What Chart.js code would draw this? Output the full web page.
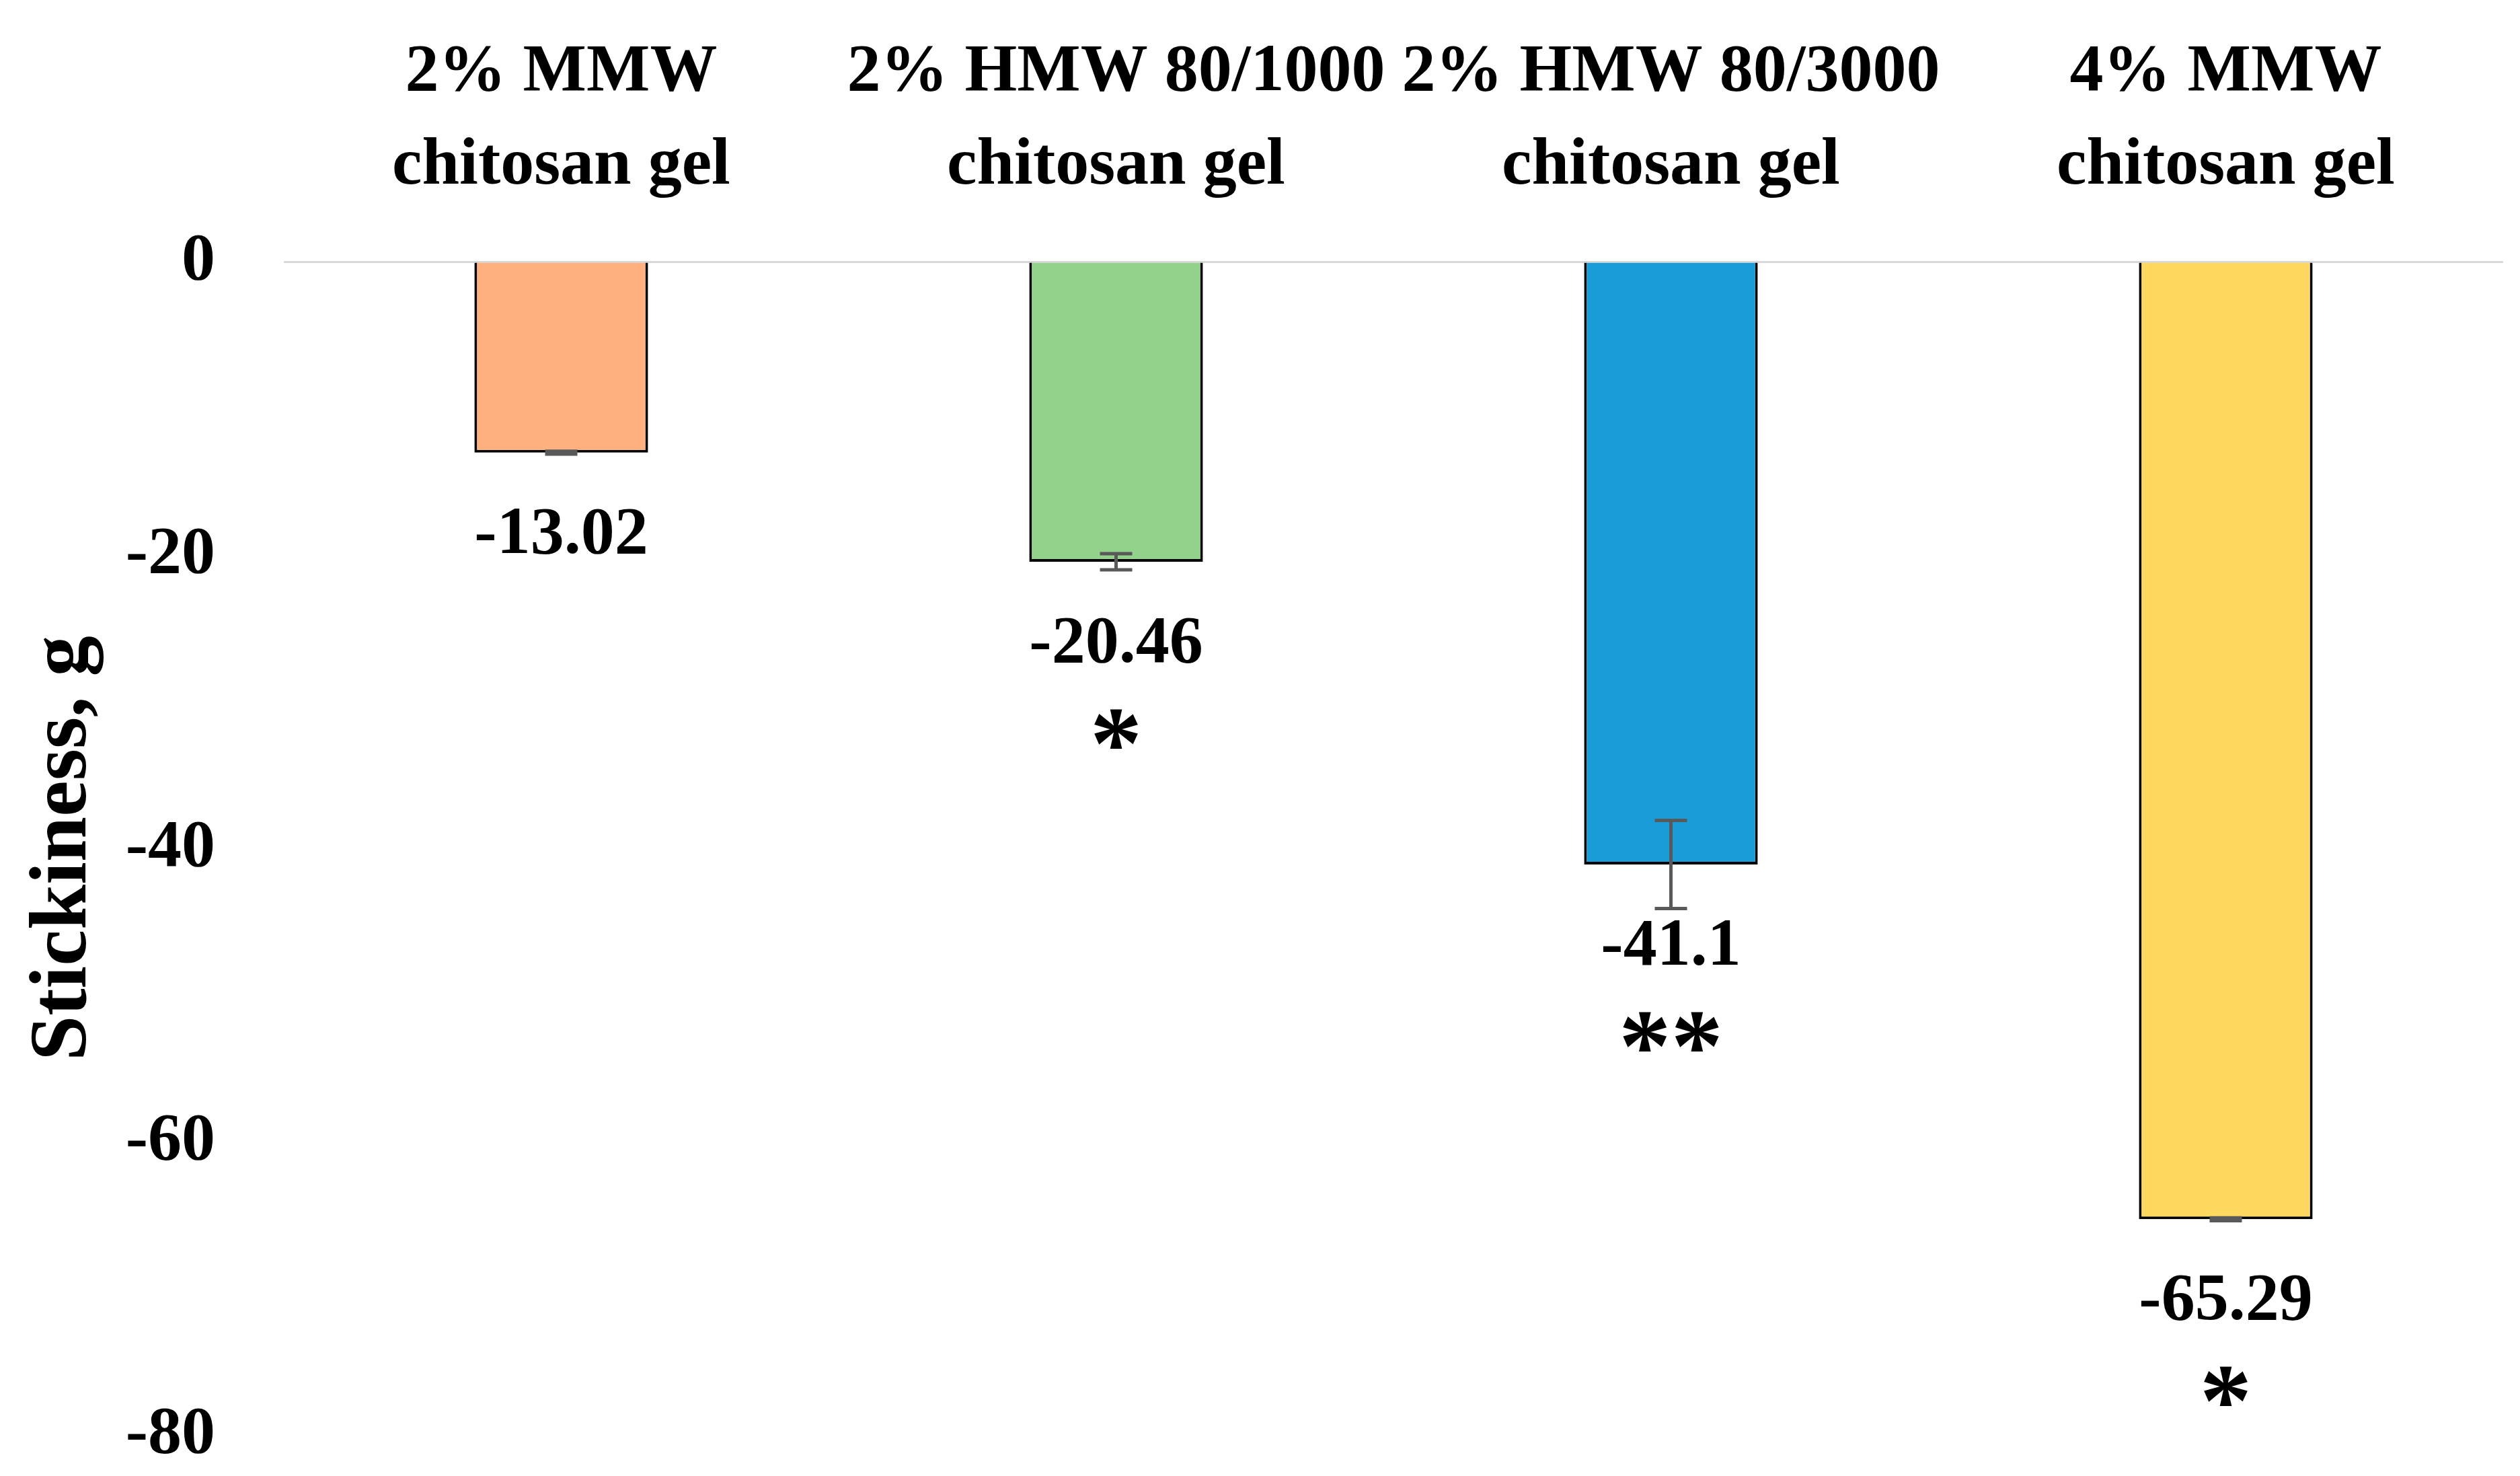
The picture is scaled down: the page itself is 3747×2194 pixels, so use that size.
<!DOCTYPE html>
<html>
<head>
<meta charset="utf-8">
<script src="https://cdn.jsdelivr.net/npm/chart.js@4.4.0/dist/chart.umd.min.js"></script>
<style>
  body { margin: 0; background: #fff; }
  canvas { display: block; }
</style>
</head>
<body>
<canvas id="chart" width="3747" height="2194"></canvas>
<script>
// data
const labels = [
    ['2% MMW', 'chitosan gel'],
    ['2% HMW 80/1000', 'chitosan gel'],
    ['2% HMW 80/3000', 'chitosan gel'],
    ['4% MMW', 'chitosan gel']
];
const values = [-13.02, -20.46, -41.1, -65.29];
const errors = [0.1, 0.55, 3.0, 0.1];
const valueLabels = ['-13.02', '-20.46', '-41.1', '-65.29'];
const stars = ['', '*', '**', '*'];
const colors = ['#FFB07F', '#93D28A', '#199CD8', '#FFD95F'];
const yTicks = [0, -20, -40, -60, -80];

const serif = '"Liberation Serif", "Times New Roman", serif';

// error bars, value labels and significance stars under each bar
const barExtras = {
    id: 'barExtras',
    afterDatasetsDraw(chart) {
        const ctx = chart.ctx;
        const y = chart.scales.y;
        const meta = chart.getDatasetMeta(0);
        meta.data.forEach((bar, i) => {
            const x = bar.x;
            const top = y.getPixelForValue(values[i] + errors[i]);
            const bottom = y.getPixelForValue(values[i] - errors[i]);
            ctx.save();
            ctx.strokeStyle = '#595959';
            ctx.lineWidth = 5;
            ctx.beginPath();
            ctx.moveTo(x, top); ctx.lineTo(x, bottom);
            ctx.moveTo(x - 24, top); ctx.lineTo(x + 24, top);
            ctx.moveTo(x - 24, bottom); ctx.lineTo(x + 24, bottom);
            ctx.stroke();

            ctx.fillStyle = '#000';
            ctx.textAlign = 'center';
            ctx.textBaseline = 'alphabetic';
            ctx.font = 'bold 100px ' + serif;
            const mid = bar.y + 115;
            ctx.fillText(valueLabels[i], x, mid + 34);
            if (stars[i]) {
                ctx.font = 'bold 155px ' + serif;
                ctx.fillText(stars[i], x, mid + 132 + 75);
            }
            ctx.restore();
        });
    }
};

const ctx = document.getElementById('chart').getContext('2d');
const chart = new Chart(ctx, {
    type: 'bar',
    data: {
        labels: labels,
        datasets: [{
            data: values,
            backgroundColor: colors,
            borderColor: '#000',
            borderWidth: 4,
            barPercentage: 0.313,
            categoryPercentage: 1
        }]
    },
    options: {
        responsive: false,
        animation: false,
        devicePixelRatio: 1,
        layout: { padding: { top: 0, left: 0, right: 25, bottom: 61 } },
        plugins: {
            legend: { display: false },
            tooltip: { enabled: false }
        },
        scales: {
            x: {
                position: 'top',
                grid: { display: false, drawTicks: false },
                border: { display: false },
                ticks: {
                    color: '#000',
                    font: { family: serif, size: 100, weight: 'bold', lineHeight: 1.39 },
                    padding: 72,
                    maxRotation: 0,
                    autoSkip: false
                },
                afterFit(scale) {
                    scale.height = 389;
                    scale.paddingLeft = 0;
                    scale.paddingRight = 0;
                }
            },
            y: {
                min: -80,
                max: 0,
                afterBuildTicks(scale) { scale.ticks = yTicks.map(v => ({ value: v })); },
                grid: {
                    drawTicks: false,
                    lineWidth: 3,
                    color: c => (c.tick && c.tick.value === 0) ? '#D9D9D9' : 'rgba(0,0,0,0)'
                },
                border: { display: false },
                ticks: {
                    color: '#000',
                    font: { family: serif, size: 100, weight: 'bold' },
                    padding: 102
                },
                title: {
                    display: true,
                    text: 'Stickiness, g',
                    color: '#000',
                    font: { family: serif, size: 121, weight: 'bold', lineHeight: 1.2 },
                    padding: { top: 23, bottom: 0 }
                },
                afterFit(scale) {
                    scale.width = 422;
                    scale.paddingTop = 0;
                    scale.paddingBottom = 0;
                }
            }
        }
    },
    plugins: [barExtras]
});
</script>
</body>
</html>
